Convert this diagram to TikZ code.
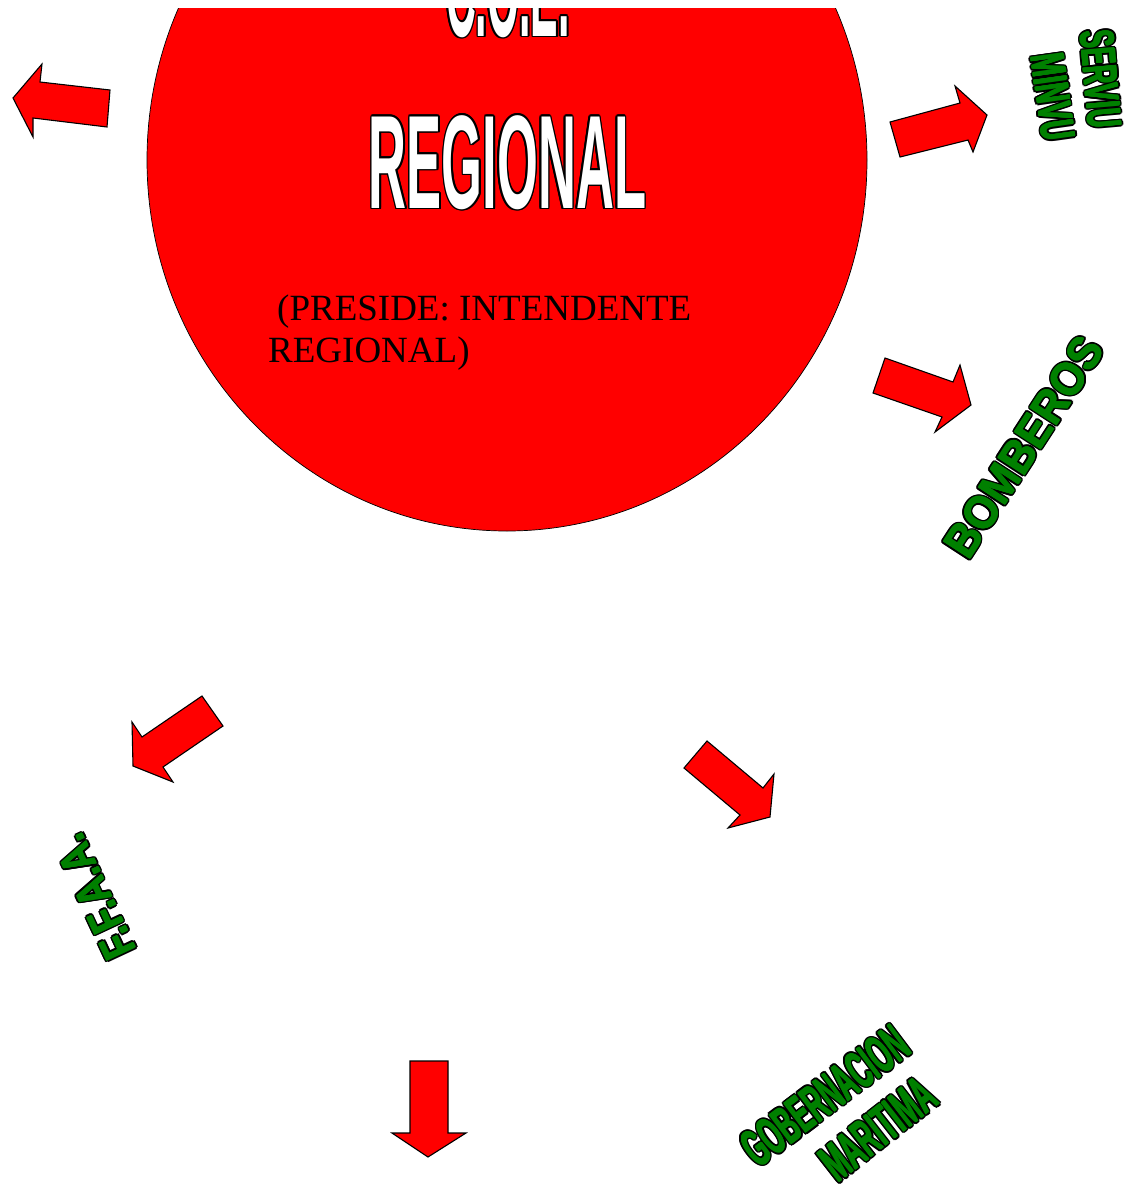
\documentclass[tikz,border=0pt]{standalone}
\usepackage{fontspec}
\setmainfont{Liberation Serif}
\newfontfamily\gsans{Liberation Sans}
\usetikzlibrary{calc}
\definecolor{wagreen}{RGB}{0,128,0}
% outlined word art: black copies round the text, then the text itself
\newcommand\wordart[6]{%
  \foreach \oa in {0,30,...,330}{%
    \node[inner sep=0pt, text=black, font=#4, #3] (#1o\oa) at ($(#2)+(\oa:1.6)$) {#6};
  }%
  \node[inner sep=0pt, text=#5, font=#4, #3] (#1) at (#2) {#6};
}
% heavier variant for the green labels
\newcommand\heavyart[6]{%
  \foreach \oa in {0,30,...,330}{%
    \node[inner sep=0pt, text=black, font=#4, #3] (#1o\oa) at ($(#2)+(\oa:2.1)$) {#6};
  }%
  \foreach \oa in {0,90,180,270}{%
    \node[inner sep=0pt, text=#5, font=#4, #3] (#1f\oa) at ($(#2)+(\oa:0.5)$) {#6};
  }%
  \node[inner sep=0pt, text=#5, font=#4, #3] (#1) at (#2) {#6};
}
\tikzset{
  blockarrow/.style={fill=red, draw=black, line width=1.1pt, line join=miter},
}
\begin{document}
\begin{tikzpicture}[x=1pt,y=-1pt]
\useasboundingbox (0,0) rectangle (1128,1189);
\begin{scope}
  \clip (0,8) rectangle (1128,1189);
  \fill[red] (507,160) ellipse [x radius=360, y radius=371];
  \draw[black, line width=0.7pt] (507,160) ellipse [x radius=360, y radius=371];
  \wordart{coe}{508,-9.5}{xscale=0.31}{\gsans\bfseries\fontsize{133}{133}\selectfont}{white}{C.O.E.}
\end{scope}
\wordart{reg}{507.5,162.5}{xscale=0.395}{\gsans\bfseries\fontsize{133}{133}\selectfont}{white}{REGIONAL}
\node[inner sep=0pt, anchor=base west, align=left, font=\fontsize{37}{42}\selectfont] (preside) at (268,362)
  {\hspace*{9pt}(PRESIDE: INTENDENTE\\REGIONAL)};
% arrows
\draw[blockarrow] (13,98) -- (42,64) -- (40,82) -- (110,90) -- (107,127) -- (33,118) -- (33,137) -- cycle;
\draw[blockarrow] (890,122) -- (960,103) -- (955,86) -- (987,115) -- (973,152) -- (968,140) -- (900,157) -- cycle;
\draw[blockarrow] (885,358) -- (953,382) -- (960,365) -- (971,405) -- (935,432) -- (942,417) -- (873,393) -- cycle;
\draw[blockarrow] (202,696) -- (223,726) -- (163,767) -- (173,782) -- (133,766) -- (132,722) -- (142,737) -- cycle;
\draw[blockarrow] (707,741) -- (763,788) -- (774,774) -- (770,817) -- (728,828) -- (740,815) -- (684,768) -- cycle;
\draw[blockarrow] (410,1061) -- (448,1061) -- (448,1133) -- (466,1133) -- (428,1157) -- (392,1133) -- (410,1133) -- cycle;
% green word art
\heavyart{serviu}{1101,79}{rotate=-85, xscale=0.55}{\gsans\bfseries\fontsize{48}{48}\selectfont}{wagreen}{SERVIU}
\heavyart{minvu}{1053,97}{rotate=-82, xscale=0.56}{\gsans\bfseries\fontsize{48}{48}\selectfont}{wagreen}{MINVU}
\heavyart{bomberos}{1024,447}{rotate=57, xscale=0.93}{\gsans\bfseries\fontsize{46}{46}\selectfont}{wagreen}{BOMBEROS}
\heavyart{ffaa}{95,897}{rotate=115, xscale=0.8}{\gsans\bfseries\fontsize{46}{46}\selectfont}{wagreen}{F.F.A.A.}
\heavyart{gober}{825,1096}{rotate=37, xscale=0.48}{\gsans\bfseries\fontsize{53}{53}\selectfont}{wagreen}{GOBERNACION}
\heavyart{marit}{878,1129}{rotate=38, xscale=0.49}{\gsans\bfseries\fontsize{53}{53}\selectfont}{wagreen}{MARITIMA}
\end{tikzpicture}
\end{document}
